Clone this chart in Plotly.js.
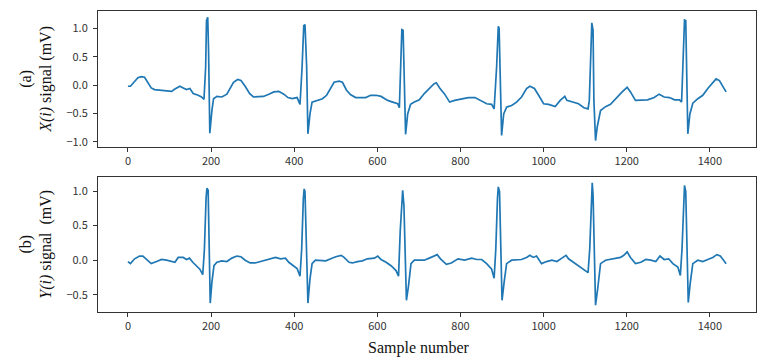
<!DOCTYPE html>
<html>
<head>
<meta charset="utf-8">
<script src="https://cdn.plot.ly/plotly-3.0.1.min.js"></script>
<style>
  html, body { margin: 0; padding: 0; background: #fff; }
  #plot { width: 774px; height: 361px; }
</style>
</head>
<body>
<div id="plot"></div>
<script>
// --- data (sample index, mV) ---
const xSamples = [0,6,24,32,40,48,56,64,77,93,105,113,125,133,141,149,157,169,177,183,187,189,192,194,197,202,206,214,226,238,246,254,264,272,282,293,302,314,326,339,351,363,375,385,395,407,414,419,423,426,430,433,438,443,455,468,478,488,496,508,516,526,536,548,560,572,584,597,609,625,637,649,653,657,659,662,665,668,673,680,689,701,713,725,736,742,750,762,774,786,802,819,835,851,863,875,881,887,891,893,896,899,904,911,923,935,947,959,967,978,988,1000,1012,1028,1040,1051,1056,1068,1084,1097,1107,1110,1114,1116,1119,1121,1125,1129,1137,1149,1161,1173,1189,1201,1209,1221,1234,1250,1266,1278,1290,1303,1315,1327,1332,1336,1339,1342,1344,1347,1352,1359,1371,1383,1395,1407,1415,1423,1433,1439];
const xSignal = [-0.02,-0.02,0.13,0.15,0.14,0.05,-0.05,-0.08,-0.09,-0.09,-0.11,-0.07,-0.02,-0.05,-0.08,-0.06,-0.15,-0.18,-0.21,-0.25,0.32,1.14,1.20,0.61,-0.85,-0.45,-0.24,-0.20,-0.21,-0.16,-0.05,0.05,0.10,0.08,-0.02,-0.15,-0.21,-0.20,-0.20,-0.16,-0.12,-0.11,-0.16,-0.22,-0.24,-0.22,-0.34,0.32,1.05,1.07,0.32,-0.86,-0.51,-0.30,-0.27,-0.24,-0.18,-0.05,0.05,0.07,0.05,-0.09,-0.17,-0.22,-0.22,-0.22,-0.18,-0.18,-0.20,-0.27,-0.30,-0.33,-0.40,0.44,0.98,0.97,0.02,-0.87,-0.51,-0.34,-0.30,-0.26,-0.15,-0.06,0.02,0.04,-0.05,-0.16,-0.30,-0.27,-0.25,-0.22,-0.22,-0.28,-0.33,-0.34,-0.42,0.32,1.04,1.00,0.02,-0.89,-0.51,-0.39,-0.36,-0.30,-0.21,-0.06,-0.02,-0.06,-0.18,-0.33,-0.34,-0.38,-0.27,-0.20,-0.27,-0.30,-0.33,-0.40,-0.42,-0.27,0.61,1.10,0.97,-0.27,-0.98,-0.74,-0.45,-0.38,-0.34,-0.24,-0.12,-0.04,-0.12,-0.27,-0.27,-0.26,-0.22,-0.16,-0.21,-0.22,-0.26,-0.26,-0.30,0.61,1.15,1.14,0.32,-0.86,-0.51,-0.32,-0.24,-0.18,-0.06,0.05,0.11,0.08,-0.05,-0.12];

const ySamples = [0,6,16,28,36,44,56,69,81,93,105,113,121,133,141,148,156,165,173,180,184,188,190,193,195,198,202,207,214,226,238,250,262,272,282,294,306,318,331,343,355,367,379,387,399,407,414,418,422,424,426,429,433,438,443,451,463,476,488,500,513,520,532,540,552,564,576,593,601,609,621,633,645,651,655,659,661,664,667,670,675,681,689,701,713,725,736,744,752,766,778,794,810,827,839,851,863,875,881,885,889,891,894,896,900,905,911,923,935,947,959,967,975,983,995,1007,1020,1032,1044,1054,1060,1072,1084,1097,1107,1111,1114,1117,1119,1122,1125,1130,1137,1149,1161,1173,1185,1193,1201,1209,1221,1234,1246,1258,1270,1280,1290,1301,1311,1323,1329,1333,1337,1339,1342,1344,1348,1353,1359,1371,1383,1395,1407,1417,1425,1433,1439];
const ySignal = [-0.02,-0.05,0.02,0.06,0.06,0.02,-0.05,-0.02,0.01,0.00,-0.02,-0.03,0.04,0.04,0.01,0.03,-0.03,-0.08,-0.13,-0.21,0.16,0.89,1.04,1.01,0.41,-0.62,-0.32,-0.08,-0.03,-0.01,-0.02,0.03,0.06,0.05,0.00,-0.04,-0.04,-0.02,0.01,0.02,0.04,0.02,0.03,-0.03,-0.08,-0.12,-0.23,0.16,0.89,1.03,0.99,0.41,-0.62,-0.27,-0.05,0.00,-0.01,-0.01,0.02,0.05,0.07,0.04,-0.03,-0.04,-0.02,-0.01,0.02,0.03,0.06,0.01,-0.03,-0.08,-0.15,-0.23,0.41,0.94,1.01,0.79,-0.08,-0.58,-0.37,-0.05,0.00,0.00,0.00,0.03,0.06,0.08,0.02,-0.06,-0.04,0.02,0.00,0.03,0.01,0.01,-0.05,-0.13,-0.26,0.16,0.89,1.06,0.99,0.41,-0.58,-0.32,-0.05,0.00,0.00,0.01,0.04,0.07,0.04,0.06,-0.05,-0.02,0.00,-0.02,0.03,0.07,0.02,-0.03,-0.08,-0.14,-0.18,0.16,0.79,1.12,0.94,-0.08,-0.65,-0.42,-0.05,0.00,0.01,0.02,0.04,0.07,0.12,0.04,-0.05,-0.03,0.01,0.00,-0.02,0.06,0.01,0.02,-0.05,-0.10,-0.22,0.16,0.89,1.08,0.99,0.41,-0.61,-0.32,-0.05,0.00,-0.02,0.01,0.04,0.08,0.06,0.00,-0.05];

const xTicks = [0, 200, 400, 600, 800, 1000, 1200, 1400];
const yTicksTop = [-1.0, -0.5, 0.0, 0.5, 1.0];
const yTicksBottom = [-0.5, 0.0, 0.5, 1.0];

// --- 共通スタイル ---
const lineColor = '#1f77b4';
const tickFont = { family: '"Noto Sans CJK SC", "DejaVu Sans", sans-serif', size: 11, color: '#333' };
const serif = '"Liberation Serif", "Times New Roman", serif';

const axisBase = {
    showline: true, mirror: true, linecolor: '#333', linewidth: 1,
    ticks: 'outside', ticklen: 4, tickcolor: '#333', tickwidth: 1,
    showgrid: false, zeroline: false, tickfont: tickFont
};

const traces = [
    { x: xSamples, y: xSignal, xaxis: 'x', yaxis: 'y', type: 'scatter', mode: 'lines',
      line: { color: lineColor, width: 1.7 }, hoverinfo: 'skip' },
    { x: ySamples, y: ySignal, xaxis: 'x2', yaxis: 'y2', type: 'scatter', mode: 'lines',
      line: { color: lineColor, width: 1.7 }, hoverinfo: 'skip' }
];

const minusLabel = v => v.toFixed(1).replace('-', '\u2212');

const layout = {
    width: 774, height: 361,
    margin: { l: 98, r: 18, t: 11, b: 49 },
    paper_bgcolor: '#fff', plot_bgcolor: '#fff',
    showlegend: false,
    xaxis: Object.assign({}, axisBase, {
        domain: [0, 1], anchor: 'y', range: [-72, 1511],
        tickvals: xTicks, ticktext: xTicks.map(String)
    }),
    yaxis: Object.assign({}, axisBase, {
        domain: [0.549, 1], anchor: 'x', range: [-1.089, 1.309],
        tickvals: yTicksTop, ticktext: yTicksTop.map(minusLabel), ticklabelstandoff: 3,
        title: { text: '(a)<br><i>X(i)</i> signal (mV)', font: { family: serif, size: 16, color: '#111' }, standoff: 10 }
    }),
    xaxis2: Object.assign({}, axisBase, {
        domain: [0, 1], anchor: 'y2', range: [-72, 1511],
        tickvals: xTicks, ticktext: xTicks.map(String)
    }),
    yaxis2: Object.assign({}, axisBase, {
        domain: [0, 0.45], anchor: 'x2', range: [-0.749, 1.209],
        tickvals: yTicksBottom, ticktext: yTicksBottom.map(minusLabel), ticklabelstandoff: 3,
        title: { text: '(b)<br><i>Y(i)</i> signal  (mV)', font: { family: serif, size: 16, color: '#111' }, standoff: 10 }
    }),
    annotations: [{
        text: 'Sample number', xref: 'paper', yref: 'paper', x: 0.488, y: -0.118,
        xanchor: 'center', yanchor: 'middle', showarrow: false,
        font: { family: serif, size: 16, color: '#111' }
    }]
};

Plotly.newPlot('plot', traces, layout, { staticPlot: true, displayModeBar: false });
</script>
</body>
</html>
